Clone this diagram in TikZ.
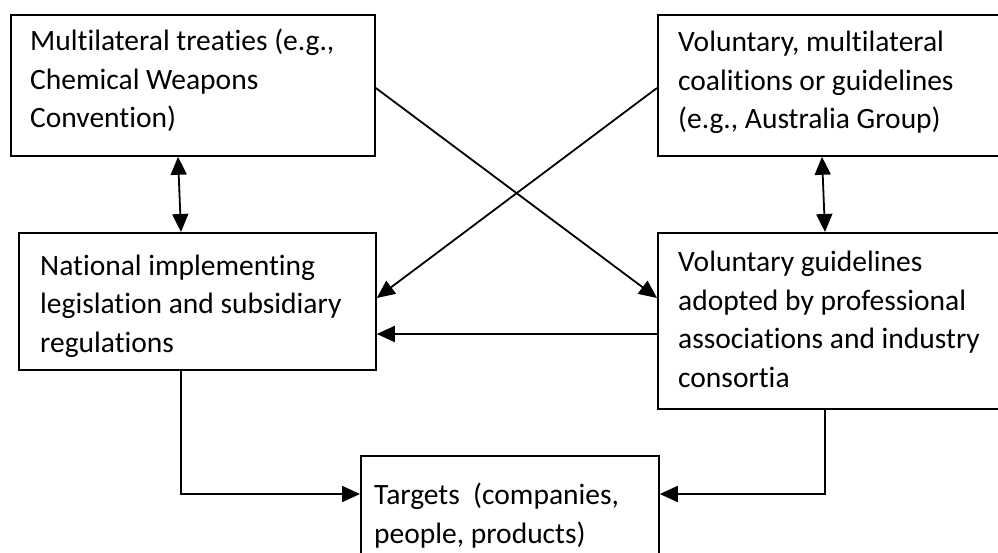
\documentclass[tikz,border=0pt]{standalone}
\usepackage{fontspec}
\setmainfont[Ligatures={NoCommon}]{Carlito}
\usetikzlibrary{arrows.meta,calc}
\begin{document}
\begin{tikzpicture}[x=1pt,y=-1pt,
  boxnode/.style={draw, line width=1.8pt, rectangle, inner sep=0pt, anchor=north west},
  txt/.style={anchor=base west, align=left, inner sep=0pt, font=\fontsize{29.5}{38.5}\selectfont},
  arr/.style={line width=1.8pt, -{Triangle[length=18pt,width=16pt]}},
  darr/.style={line width=1.8pt, {Triangle[length=18pt,width=16pt]}-{Triangle[length=18pt,width=16pt]}}]
\useasboundingbox (0,0) rectangle (998,553);
% boxes
\node[boxnode, minimum width=364pt, minimum height=141pt] (a) at (10,14) {};
\node[boxnode, minimum width=360pt, minimum height=141pt] (b) at (657,14) {};
\node[boxnode, minimum width=357pt, minimum height=137pt] (c) at (18,232) {};
\node[boxnode, minimum width=360pt, minimum height=176pt] (d) at (657,232) {};
\node[boxnode, minimum width=298pt, minimum height=120pt] (e) at (360,455) {};
% texts (anchored at the baseline of the last line)
\node[txt] (ta) at (30,128) {Multilateral treaties (e.g.,\\Chemical Weapons\\Convention)};
\node[txt] (tb) at (678,129) {Voluntary, multilateral\\coalitions or guidelines\\(e.g., Australia Group)};
\node[txt] (tc) at (40,352) {National implementing\\legislation and subsidiary\\regulations};
\node[txt] (td) at (678,387) {Voluntary guidelines\\adopted by professional\\associations and industry\\consortia};
\node[txt] (te) at (374,543) {Targets\ \ (companies,\\people, products)};
% connectors
\draw[darr] (178,0 |- a.south) -- (181,0 |- c.north);
\draw[darr] (822,0 |- b.south) -- (825,0 |- d.north);
\draw[arr] (a.east |- 0,88) -- (d.west |- 0,298);
\draw[arr] (b.west |- 0,88) -- (c.east |- 0,298);
\draw[arr] (d.west |- 0,334) -- (c.east |- 0,334);
\draw[arr] (181,0 |- c.south) |- (e.west |- 0,494);
\draw[arr] (825,0 |- d.south) |- (e.east |- 0,494);
\end{tikzpicture}
\end{document}
